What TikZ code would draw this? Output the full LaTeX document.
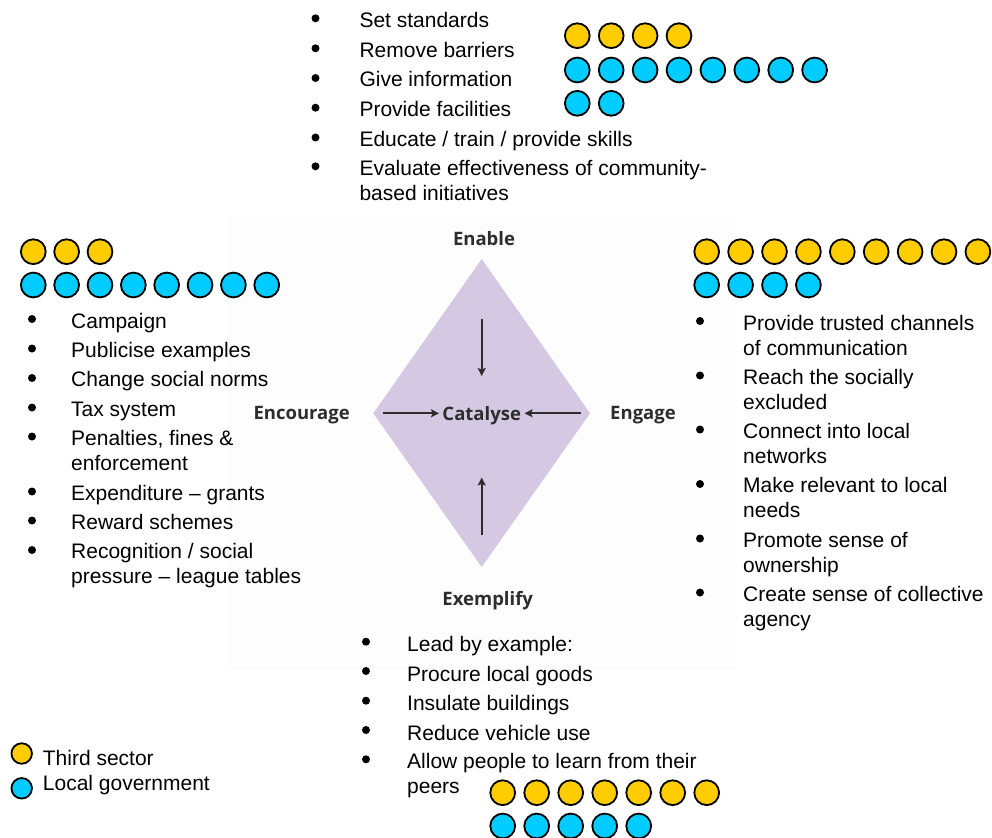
\documentclass[tikz,border=0pt]{standalone}
\usepackage{fontspec}
\setmainfont{Liberation Sans}
\newfontfamily\labfont{Open Sans}
\usetikzlibrary{arrows.meta}
\definecolor{yel}{RGB}{255,204,0}
\definecolor{cya}{RGB}{0,204,255}
\definecolor{lav}{RGB}{213,200,226}
\definecolor{lbl}{RGB}{45,45,45}
\definecolor{bgbox}{RGB}{253,253,253}
\begin{document}
\begin{tikzpicture}[x=1pt,y=-1pt,
  txt/.style={anchor=base west, inner sep=0pt, font=\fontsize{21}{25}\selectfont},
  bul/.style={circle, fill=black, inner sep=0pt, minimum size=8pt},
  tsc/.style={circle, draw=black, line width=1.8pt, fill=yel, inner sep=0pt, minimum size=24.8pt},
  lgc/.style={circle, draw=black, line width=1.8pt, fill=cya, inner sep=0pt, minimum size=24.8pt},
  smalltsc/.style={tsc, minimum size=20.5pt},
  smalllgc/.style={lgc, minimum size=20.5pt},
  dlab/.style={anchor=base, font=\labfont\bfseries\fontsize{18.5}{22}\selectfont, text=lbl, inner sep=0pt},
  arr/.style={-{Stealth[length=8pt,width=8pt,inset=1.5pt]}, line width=2pt, draw=lbl}
]
\useasboundingbox (0,0) rectangle (992,837);

% faint background box
\fill[bgbox] (227,215) rectangle (737,670);

% diamond
\coordinate (dT) at (481.7,259);
\coordinate (dR) at (590,413.3);
\coordinate (dB) at (481.7,567);
\coordinate (dL) at (373.3,413.3);
\fill[lav] (dT) -- (dR) -- (dB) -- (dL) -- cycle;

% labels
\node[dlab] (enable) at (484,245) {Enable};
\node[dlab] (encourage) at (301.7,419.5) {Encourage};
\node[dlab] (engage) at (643,419.5) {Engage};
\node[dlab] (exemplify) at (487.7,605) {Exemplify};
\node[dlab] (catalyse) at (481.7,420) {Catalyse};

% arrows
\coordinate (aTs) at (481.7,318.5);
\coordinate (aTe) at (481.7,376);
\coordinate (aBs) at (481.7,534.5);
\coordinate (aBe) at (481.7,477.5);
\coordinate (aLs) at (382.7,413.3);
\coordinate (aLe) at (439,413.3);
\coordinate (aRs) at (580.7,413.3);
\coordinate (aRe) at (524.5,413.3);
\draw[arr] (aTs) -- (aTe);
\draw[arr] (aBs) -- (aBe);
\draw[arr] (aLs) -- (aLe);
\draw[arr] (aRs) -- (aRe);

% ---------- top list ----------
\foreach \n/\y in {1/18.3,2/48.3,3/78,4/107.7,5/137.5,6/166.3}
  \node[bul] (tb\n) at (315.5,\y) {};
\node[txt] (t1) at (359.3,27.3) {Set standards};
\node[txt] (t2) at (359.3,57.3) {Remove barriers};
\node[txt] (t3) at (359.3,87) {Give information};
\node[txt] (t4) at (359.3,116.7) {Provide facilities};
\node[txt] (t5) at (359.3,146.5) {Educate / train / provide skills};
\node[txt] (t6) at (359.3,175.3) {Evaluate effectiveness of community-};
\node[txt] (t6b) at (359.3,200.3) {based initiatives};

% ---------- left list ----------
\foreach \n/\y in {1/319,2/348.5,3/378,4/407.5,5/436.5,6/491.5,7/520.5,8/550}
  \node[bul] (lb\n) at (32,\y) {};
\node[txt] (l1) at (71,328) {Campaign};
\node[txt] (l2) at (71,357.3) {Publicise examples};
\node[txt] (l3) at (71,386.8) {Change social norms};
\node[txt] (l4) at (71,416.3) {Tax system};
\node[txt] (l5) at (71,445.5) {Penalties, fines \&};
\node[txt] (l5b) at (71,470.5) {enforcement};
\node[txt] (l6) at (71,500.3) {Expenditure -- grants};
\node[txt] (l7) at (71,529.3) {Reward schemes};
\node[txt] (l8) at (71,558.8) {Recognition / social};
\node[txt] (l8b) at (71,583.8) {pressure -- league tables};

% ---------- right list ----------
\foreach \n/\y in {1/321,2/375.5,3/429.5,4/484,5/538.5,6/592.5}
  \node[bul] (rb\n) at (700,\y) {};
\node[txt] (r1) at (743,330) {Provide trusted channels};
\node[txt] (r1b) at (743,355) {of communication};
\node[txt] (r2) at (743,384.3) {Reach the socially};
\node[txt] (r2b) at (743,409.3) {excluded};
\node[txt] (r3) at (743,438.5) {Connect into local};
\node[txt] (r3b) at (743,463.5) {networks};
\node[txt] (r4) at (743,492.8) {Make relevant to local};
\node[txt] (r4b) at (743,517.8) {needs};
\node[txt] (r5) at (743,547.3) {Promote sense of};
\node[txt] (r5b) at (743,572.3) {ownership};
\node[txt] (r6) at (743,601.3) {Create sense of collective};
\node[txt] (r6b) at (743,626.3) {agency};

% ---------- bottom list ----------
\foreach \n/\y in {1/641.7,2/671,3/700.7,4/730,5/759.3}
  \node[bul] (bb\n) at (366,\y) {};
\node[txt] (b1) at (407,651.7) {Lead by example:};
\node[txt] (b2) at (407,681) {Procure local goods};
\node[txt] (b3) at (407,710.7) {Insulate buildings};
\node[txt] (b4) at (407,740) {Reduce vehicle use};
\node[txt] (b5) at (407,768.5) {Allow people to learn from their};
\node[txt] (b5b) at (407,793.5) {peers};

% ---------- circle groups ----------
% top
\foreach \i in {0,...,3}
  \node[tsc] (topy\i) at ({577.3+33.9*\i},35.7) {};
\foreach \i in {0,...,7}
  \node[lgc] (topb\i) at ({577.3+33.9*\i},70) {};
\foreach \i in {0,1}
  \node[lgc] (topc\i) at ({577.3+33.9*\i},103.3) {};
% left
\foreach \i in {0,...,2}
  \node[tsc] (lefty\i) at ({33.3+33.35*\i},251.7) {};
\foreach \i in {0,...,7}
  \node[lgc] (leftb\i) at ({33.3+33.35*\i},285) {};
% right
\foreach \i in {0,...,8}
  \node[tsc] (righty\i) at ({706.7+33.9*\i},251.7) {};
\foreach \i in {0,...,3}
  \node[lgc] (rightb\i) at ({706.7+33.9*\i},285) {};
% bottom
\foreach \i in {0,...,6}
  \node[tsc] (boty\i) at ({502.7+34*\i},792.7) {};
\foreach \i in {0,...,4}
  \node[lgc] (botb\i) at ({502.7+34*\i},826) {};

% ---------- legend ----------
\node[smalltsc] (legy) at (21.7,753.5) {};
\node[smalllgc] (legb) at (21.7,788.3) {};
\node[txt] (legyt) at (42.7,765.7) {Third sector};
\node[txt] (legbt) at (42.7,790) {Local government};
\end{tikzpicture}
\end{document}
